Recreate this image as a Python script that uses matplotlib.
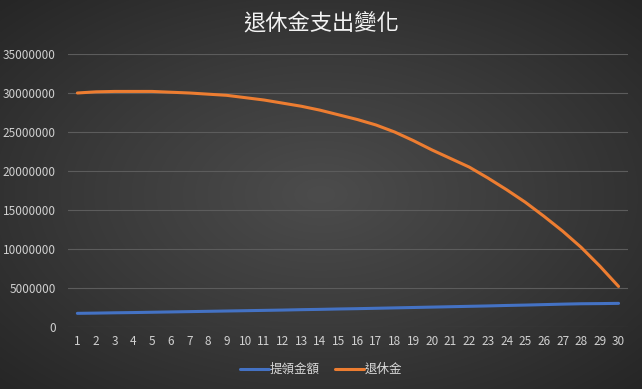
import numpy as np
import matplotlib.pyplot as plt
from matplotlib.colors import LinearSegmentedColormap

plt.rcParams['font.family'] = ['Noto Sans CJK TC', 'DejaVu Sans']

years = list(range(1, 31))
withdraw = [1.75, 1.78, 1.82, 1.85, 1.89, 1.93, 1.97, 2.01, 2.05, 2.09,
            2.13, 2.17, 2.22, 2.26, 2.31, 2.35, 2.40, 2.45, 2.50, 2.55,
            2.60, 2.65, 2.70, 2.76, 2.81, 2.87, 2.93, 2.98, 3.00, 3.03]
pension = [30.0, 30.15, 30.2, 30.2, 30.2, 30.1, 30.0, 29.85, 29.7, 29.4,
           29.1, 28.7, 28.3, 27.8, 27.2, 26.6, 25.9, 25.0, 23.9, 22.7,
           21.6, 20.5, 19.1, 17.6, 16.0, 14.2, 12.3, 10.2, 7.8, 5.2]
withdraw = [v * 1e6 for v in withdraw]
pension = [v * 1e6 for v in pension]
yticks = list(range(0, 35000001, 5000000))

fig = plt.figure(figsize=(6.42, 3.89), dpi=100)

# radial dark background
bg = fig.add_axes([0, 0, 1, 1], zorder=-1)
xx, yy = np.meshgrid(np.linspace(-1, 1, 642), np.linspace(-1, 1, 389))
r = np.sqrt(xx ** 2 + yy ** 2) / np.sqrt(2)
cmap = LinearSegmentedColormap.from_list('bg', ['#4c4c4c', '#3a3a3a', '#262626'])
bg.imshow(r, cmap=cmap, aspect='auto', extent=[0, 1, 0, 1], vmin=0, vmax=1)
bg.axis('off')

ax = fig.add_axes([0.106, 0.1594, 0.872, 0.7018])
ax.patch.set_alpha(0)
ax.plot(years, withdraw, color='#4472C4', lw=2.2, label='提領金額',
        solid_capstyle='round')
ax.plot(years, pension, color='#ED7D31', lw=2.2, label='退休金',
        solid_capstyle='round')

ax.set_xlim(0.5, 30.5)
ax.set_ylim(0, 35000000)
ax.set_xticks(years)
ax.set_yticks(yticks)
ax.set_yticklabels([str(v) for v in yticks])
ax.grid(axis='y', color='#5c5c5c', lw=0.8)
ax.set_axisbelow(True)
for s in ax.spines.values():
    s.set_visible(False)
ax.tick_params(length=0, colors='#d0d0d0', labelsize=8.5)
ax.tick_params(axis='y', pad=9)
ax.tick_params(axis='x', pad=6)

fig.text(0.5, 0.942, '退休金支出變化', ha='center', va='center',
         color='#f2f2f2', fontsize=16)

leg = fig.legend(loc='center', bbox_to_anchor=(0.5, 0.05), ncol=2,
                 frameon=False, fontsize=9, handlelength=2.3,
                 handletextpad=0.1, columnspacing=1.2)
for t in leg.get_texts():
    t.set_color('#d9d9d9')

fig.savefig('out.png', dpi=100)
